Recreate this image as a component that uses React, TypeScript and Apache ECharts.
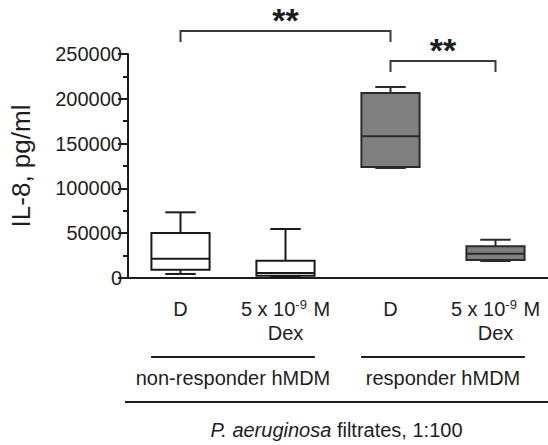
import React, { useEffect, useRef } from "react";
import * as echarts from "echarts";

const categories = ["D", "5 x 10{sup|-9} M\nDex", "D", "5 x 10{sup|-9} M\nDex"];
const mins = [4500, 1500, 122800, 19000];
const q1s = [9300, 2500, 123900, 20100];
const medians = [21500, 5500, 158100, 27100];
const q3s = [50200, 19300, 206500, 35400];
const maxs = [73300, 54700, 213200, 42700];
const boxFills = ["#ffffff", "#ffffff", "#808080", "#808080"];

const yTicks = { min: 0, max: 250000, interval: 50000 };
const yName = "IL-8, pg/ml";

const groupLabels = ["non-responder hMDM", "responder hMDM"];
const groupRanges = [
  [0, 1],
  [2, 3],
];
const bottomPrefix = "P. aeruginosa";
const bottomSuffix = " filtrates, 1:100";

const sigPairs = [
  [0, 2],
  [2, 3],
];
const sigLabels = ["**", "**"];

const FONT = "'Liberation Sans', Arial, Helvetica, sans-serif";
const INK = "#1e1e1e";

export default function App() {
  const ref = useRef<HTMLDivElement>(null);
  useEffect(() => {
    if (!ref.current) return;
    const chart = echarts.init(ref.current, null, { renderer: "svg" });
    const data = categories.map((_, i) => [i, mins[i], q1s[i], medians[i], q3s[i], maxs[i]]);
    chart.setOption({
      animation: false,
      backgroundColor: "#ffffff",
      grid: { left: 128, right: 0, top: 54, bottom: 167, containLabel: false },
      xAxis: {
        type: "category",
        data: categories,
        boundaryGap: true,
        axisLine: { lineStyle: { color: INK, width: 2 } },
        axisTick: { alignWithLabel: true, length: 10, lineStyle: { color: INK, width: 2 } },
        axisLabel: {
          interval: 0,
          margin: 19,
          color: INK,
          fontFamily: FONT,
          fontSize: 20,
          lineHeight: 24,
          rich: {
            sup: { fontSize: 13, fontFamily: FONT, color: INK, padding: [0, 1, 10, 0], lineHeight: 24 },
          },
        },
      },
      yAxis: {
        type: "value",
        min: yTicks.min,
        max: yTicks.max,
        interval: yTicks.interval,
        name: yName,
        nameLocation: "middle",
        nameGap: 94,
        nameTextStyle: { fontFamily: FONT, fontSize: 26, color: INK },
        axisLine: { show: true, lineStyle: { color: INK, width: 2 } },
        axisTick: { show: true, length: 10, lineStyle: { color: INK, width: 2 } },
        minorTick: { show: true, splitNumber: 2, length: 5, lineStyle: { color: INK, width: 2 } },
        splitLine: { show: false },
        axisLabel: {
          margin: 6,
          color: INK,
          fontFamily: FONT,
          fontSize: 20,
          formatter: (v: number) => String(v),
        },
      },
      series: [
        {
          type: "custom",
          data,
          encode: { x: 0, y: [1, 2, 3, 4, 5] },
          renderItem: (params: any, api: any) => {
            const idx = api.value(0);
            const lo = api.coord([idx, api.value(1)]);
            const q1 = api.coord([idx, api.value(2)]);
            const med = api.coord([idx, api.value(3)]);
            const q3 = api.coord([idx, api.value(4)]);
            const hi = api.coord([idx, api.value(5)]);
            const band = api.size([1, 0])[0];
            const bw = band * 0.277;
            const cw = band * 0.145;
            const x = lo[0];
            const fill = boxFills[params.dataIndex];
            const stroke = fill === "#ffffff" ? "#1a1a1a" : "#2a2a2a";
            const ls = { stroke, lineWidth: 2 };
            return {
              type: "group",
              children: [
                { type: "line", shape: { x1: x, y1: q3[1], x2: x, y2: hi[1] }, style: ls },
                { type: "line", shape: { x1: x, y1: q1[1], x2: x, y2: lo[1] }, style: ls },
                { type: "line", shape: { x1: x - cw, y1: hi[1], x2: x + cw, y2: hi[1] }, style: ls },
                { type: "line", shape: { x1: x - cw, y1: lo[1], x2: x + cw, y2: lo[1] }, style: ls },
                {
                  type: "rect",
                  shape: { x: x - bw, y: q3[1], width: 2 * bw, height: q1[1] - q3[1] },
                  style: { fill, stroke, lineWidth: 2 },
                },
                { type: "line", shape: { x1: x - bw, y1: med[1], x2: x + bw, y2: med[1] }, style: ls },
              ],
            };
          },
        },
      ],
    });

    const px = (i: number) => chart.convertToPixel({ xAxisIndex: 0 }, i) as number;
    const band = px(1) - px(0);
    const bracketY = [31, 61];
    const bracketDrop = 11;
    const starY = [20, 50];
    const graphics: any[] = [];
    sigPairs.forEach(([a, b], k) => {
      const xa = px(a);
      const xb = px(b);
      const y = bracketY[k];
      graphics.push({
        type: "polyline",
        shape: { points: [[xa, y + bracketDrop], [xa, y], [xb, y], [xb, y + bracketDrop]] },
        style: { stroke: "#3a3a3a", lineWidth: 2, fill: null },
      });
      graphics.push({
        type: "text",
        x: (xa + xb) / 2,
        y: starY[k],
        style: {
          text: sigLabels[k],
          font: `bold 34px ${FONT}`,
          fill: INK,
          align: "center",
          verticalAlign: "middle",
          textAlign: "center",
          textVerticalAlign: "middle",
        },
      });
    });
    const groupLineY = 357;
    const groupTextY = 378;
    groupRanges.forEach(([a, b], k) => {
      const c = (px(a) + px(b)) / 2;
      const half = band * 0.78;
      graphics.push({
        type: "line",
        shape: { x1: c - half, y1: groupLineY, x2: c + half, y2: groupLineY },
        style: { stroke: INK, lineWidth: 2 },
      });
      graphics.push({
        type: "text",
        x: c,
        y: groupTextY,
        style: {
          text: groupLabels[k],
          font: `20px ${FONT}`,
          fill: INK,
          align: "center",
          verticalAlign: "middle",
          textAlign: "center",
          textVerticalAlign: "middle",
        },
      });
    });
    const left = 125;
    const right = 548;
    graphics.push({
      type: "line",
      shape: { x1: left, y1: 402, x2: right, y2: 402 },
      style: { stroke: INK, lineWidth: 2 },
    });
    graphics.push({
      type: "text",
      x: (left + right) / 2,
      y: 430,
      style: {
        text: `{i|${bottomPrefix}}{n|${bottomSuffix}}`,
        align: "center",
        verticalAlign: "middle",
        textAlign: "center",
        textVerticalAlign: "middle",
        rich: {
          i: { fontFamily: FONT, fontSize: 20, fontStyle: "italic", fill: INK, color: INK },
          n: { fontFamily: FONT, fontSize: 20, fill: INK, color: INK },
        },
      },
    });
    chart.setOption({ graphic: graphics });

    return () => chart.dispose();
  }, []);
  return <div ref={ref} style={{ width: 548, height: 445, position: "absolute", left: 0, top: 0 }} />;
}
